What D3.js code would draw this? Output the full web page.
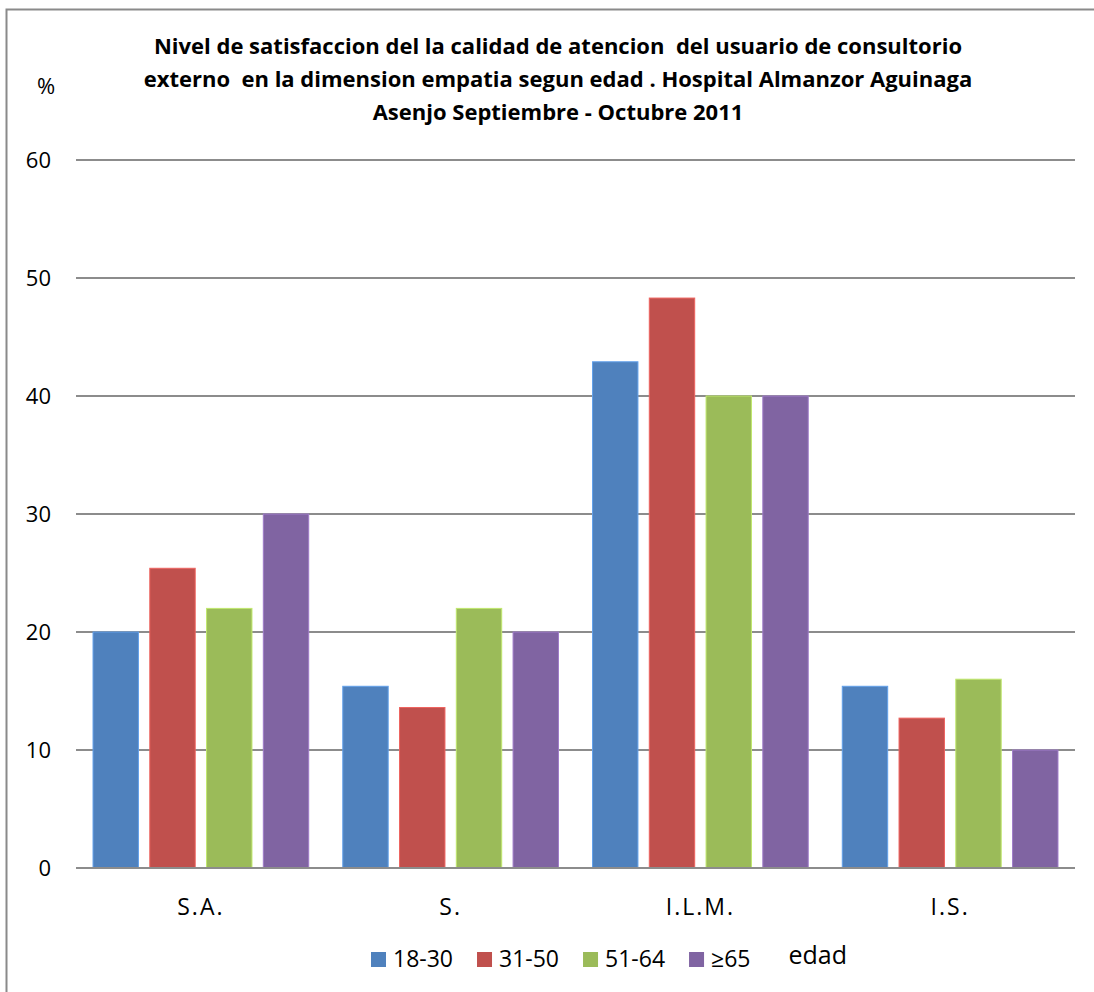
<!DOCTYPE html>
<html>
<head>
<meta charset="utf-8">
<script src="https://cdn.jsdelivr.net/npm/d3@7"></script>
<style>
  html, body { margin: 0; padding: 0; background: #fff; }
  svg { display: block; }
  text { font-family: "Open Sans", Lato, sans-serif; fill: #000; white-space: pre; }
</style>
</head>
<body>
<svg id="chart" width="1094" height="992"></svg>
<script>
// Satisfaction level (%) by age group, empathy dimension
const categories = ["S.A.", "S.", "I.L.M.", "I.S."];
const ageGroups = ["18-30", "31-50", "51-64", "≥65"];
const age18_30 = [20, 15.4, 42.9, 15.4];
const age31_50 = [25.4, 13.6, 48.3, 12.7];
const age51_64 = [22, 22, 40, 16];
const age65plus = [30, 20, 40, 10];
const yTicks = [0, 10, 20, 30, 40, 50, 60];
const titleLines = [
  "Nivel de satisfaccion del la calidad de atencion  del usuario de consultorio",
  "externo  en la dimension empatia segun edad . Hospital Almanzor Aguinaga",
  "Asenjo Septiembre - Octubre 2011"
];
const colors = ["#4F81BD", "#C0504D", "#9BBB59", "#8064A2"];

const seriesValues = [age18_30, age31_50, age51_64, age65plus];
const rows = categories.map((c, i) => ({
  category: c,
  values: ageGroups.map((g, j) => ({ group: g, idx: j, value: seriesValues[j][i] }))
}));

const svg = d3.select("#chart");

// outer frame (top and left edges visible)
svg.append("path")
  .attr("d", "M6.5,992 L6.5,9.5 L1094,9.5")
  .attr("fill", "none")
  .attr("stroke", "#8a8a8a")
  .attr("stroke-width", 2);

const plot = { left: 76, right: 1075, top: 160, bottom: 868 };

const x0 = d3.scaleBand().domain(categories).range([plot.left, plot.right]).paddingInner(0).paddingOuter(0);
const x1 = d3.scaleBand().domain(ageGroups).range([0, x0.bandwidth()]).paddingInner(0.2).paddingOuter(0.3);
const y = d3.scaleLinear().domain([0, 60]).range([plot.bottom, plot.top]);

// horizontal gridlines
svg.append("g").selectAll("line").data(yTicks).join("line")
  .attr("x1", plot.left).attr("x2", plot.right)
  .attr("y1", d => y(d)).attr("y2", d => y(d))
  .attr("stroke", "#8c8c8c").attr("stroke-width", 2);

// y tick labels
svg.append("g").selectAll("text").data(yTicks).join("text")
  .attr("x", 51).attr("y", d => y(d))
  .attr("dy", "0.36em")
  .attr("text-anchor", "end")
  .attr("font-size", 22)
  .text(d => d);

// bars
const groups = svg.append("g").selectAll("g").data(rows).join("g")
  .attr("transform", d => `translate(${x0(d.category)},0)`);
groups.selectAll("rect").data(d => d.values).join("rect")
  .attr("x", d => x1(d.group))
  .attr("width", x1.bandwidth())
  .attr("y", d => y(d.value))
  .attr("height", d => y(0) - y(d.value))
  .attr("fill", d => colors[d.idx])
  .attr("stroke", d => d3.color(colors[d.idx]).brighter(0.6))
  .attr("stroke-width", 1);

// baseline on top of the bars
svg.append("line")
  .attr("x1", plot.left).attr("x2", plot.right)
  .attr("y1", y(0)).attr("y2", y(0))
  .attr("stroke", "#8c8c8c").attr("stroke-width", 2);

// category labels
svg.append("g").selectAll("text").data(categories).join("text")
  .attr("x", d => x0(d) + x0.bandwidth() / 2)
  .attr("y", 915)
  .attr("text-anchor", "middle")
  .attr("font-size", 23)
  .attr("letter-spacing", 2)
  .text(d => d);

// title
svg.append("g").selectAll("text").data(titleLines).join("text")
  .attr("x", 558)
  .attr("y", (d, i) => 54 + i * 33)
  .attr("text-anchor", "middle")
  .attr("font-weight", "bold")
  .attr("font-size", 22)
  .text(d => d);

// axis unit
svg.append("text")
  .attr("x", 46).attr("y", 94)
  .attr("text-anchor", "middle")
  .attr("font-size", 22)
  .text("%");

// legend
const legend = svg.append("g");
let lx = 371;
ageGroups.forEach((g, i) => {
  legend.append("rect")
    .attr("x", lx).attr("y", 952)
    .attr("width", 15).attr("height", 15)
    .attr("fill", colors[i]);
  const t = legend.append("text")
    .attr("x", lx + 22).attr("y", 967)
    .attr("font-size", 23)
    .text(g);
  lx += 22 + t.node().getComputedTextLength() + 24;
});
legend.append("text")
  .attr("x", lx + 14).attr("y", 964)
  .attr("font-size", 25)
  .text("edad");
</script>
</body>
</html>
